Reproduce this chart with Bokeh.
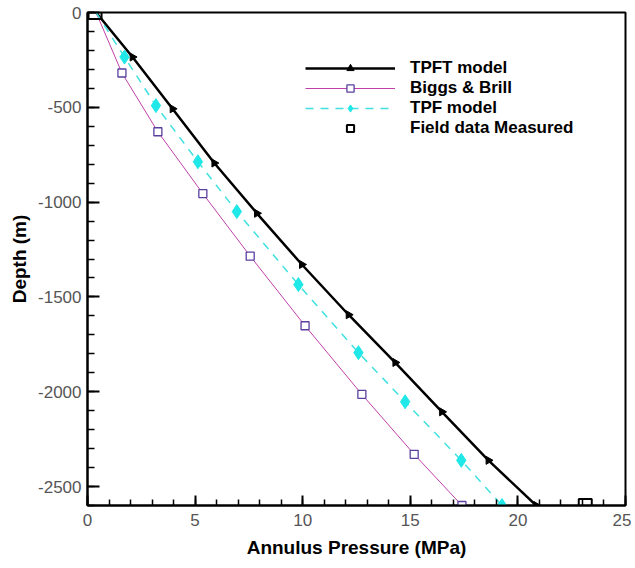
import math
from bokeh.plotting import figure
from bokeh.models import Range1d, SingleIntervalTicker, Legend, LegendItem
from bokeh.embed import file_html
from bokeh.resources import INLINE

# Data (pressure in MPa, depth in m)
tpft_p = [0.4, 2.09, 3.95, 5.89, 7.87, 9.96, 12.13, 14.30, 16.47, 18.63, 20.85]
tpft_d = [0, -235, -508, -794, -1059, -1329, -1594, -1846, -2106, -2362, -2600]

biggs_p = [0.4, 1.60, 3.27, 5.36, 7.56, 10.11, 12.75, 15.18, 17.40]
biggs_d = [0, -319, -629, -955, -1285, -1652, -2014, -2330, -2600]

tpf_p = [0.4, 1.72, 3.18, 5.13, 6.94, 9.80, 12.59, 14.76, 17.37, 19.26]
tpf_d = [0, -235, -491, -787, -1050, -1435, -1794, -2053, -2362, -2600]

field_p = [0.35, 23.13]
field_d = [0, -2600]

x_ticks = [0, 5, 10, 15, 20, 25]
y_ticks = [0, -500, -1000, -1500, -2000, -2500]

FONT = "Liberation Sans"

p = figure(frame_width=538, frame_height=493, x_range=Range1d(0, 25), y_range=Range1d(-2600, 0),
           output_backend="svg", toolbar_location=None,
           min_border_left=87, min_border_right=6, min_border_top=12, min_border_bottom=54,
           background_fill_color="white", border_fill_color="white")

p.xgrid.grid_line_color = None
p.ygrid.grid_line_color = None
p.outline_line_color = "black"
p.outline_line_width = 2
p.outline_line_alpha = 1

p.xaxis.ticker = SingleIntervalTicker(interval=5, num_minor_ticks=5)
p.yaxis.ticker = SingleIntervalTicker(interval=500, num_minor_ticks=5)
p.xaxis.major_label_overrides = {t: str(t) for t in x_ticks}
p.yaxis.major_label_overrides = {t: str(t) for t in y_ticks}

for ax in (p.xaxis[0], p.yaxis[0]):
    ax.axis_line_width = 2
    ax.axis_line_color = "black"
    ax.major_tick_out = 0
    ax.minor_tick_out = 0
    ax.major_tick_line_width = 2
    ax.minor_tick_line_width = 1.5
    ax.major_tick_line_color = "black"
    ax.minor_tick_line_color = "black"
    ax.major_label_text_font = FONT
    ax.major_label_text_font_size = "17px"
    ax.major_label_text_color = "#555555"
    ax.axis_label_text_font = FONT
    ax.axis_label_text_font_size = "19px"
    ax.axis_label_text_font_style = "bold"
    ax.axis_label_text_color = "black"

p.xaxis.major_tick_in = 10
p.xaxis.minor_tick_in = 6
p.yaxis.major_tick_in = 12
p.yaxis.minor_tick_in = 7
p.xaxis.major_label_standoff = 8
p.yaxis.major_label_standoff = 6
p.xaxis.axis_label_standoff = 8
p.yaxis.axis_label_standoff = 5
p.xaxis.axis_label = "Annulus Pressure (MPa)"
p.yaxis.axis_label = "Depth (m)"

# TPFT model
l1 = p.line(tpft_p, tpft_d, line_color="black", line_width=2.5)
m1 = p.scatter(tpft_p[1:], tpft_d[1:], marker="triangle", size=8, angle=-math.pi / 2,
               fill_color="black", line_color="black")

# Biggs & Brill
l2 = p.line(biggs_p, biggs_d, line_color="#c040a8", line_width=1)
m2 = p.scatter(biggs_p[1:], biggs_d[1:], marker="square", size=8,
               fill_color="white", line_color="#5a3fa0", line_width=1.3)

# TPF model
l3 = p.line(tpf_p, tpf_d, line_color="#40e0e0", line_width=1.5, line_dash="8 7")
m3 = p.scatter(tpf_p[1:], tpf_d[1:], marker="diamond", size=14,
               fill_color="#20e8e8", line_color="#20e8e8")

# Field data
m4 = p.scatter(field_p, field_d, marker="square", size=13,
               fill_color=None, line_color="black", line_width=2)

legend = Legend(items=[
    LegendItem(label="TPFT model", renderers=[l1, m1]),
    LegendItem(label="Biggs & Brill", renderers=[l2, m2]),
    LegendItem(label="TPF model", renderers=[l3, m3]),
    LegendItem(label="Field data Measured", renderers=[m4]),
], location=(218, 367))
legend.border_line_color = None
legend.background_fill_alpha = 0
legend.glyph_width = 90
legend.glyph_height = 18
legend.label_height = 18
legend.spacing = 0
legend.padding = 10
legend.label_standoff = 15
legend.label_text_font = FONT
legend.label_text_font_size = "17px"
legend.label_text_font_style = "bold"
legend.label_text_color = "black"
p.add_layout(legend, "center")

open("out.html", "w").write(file_html(p, INLINE))
